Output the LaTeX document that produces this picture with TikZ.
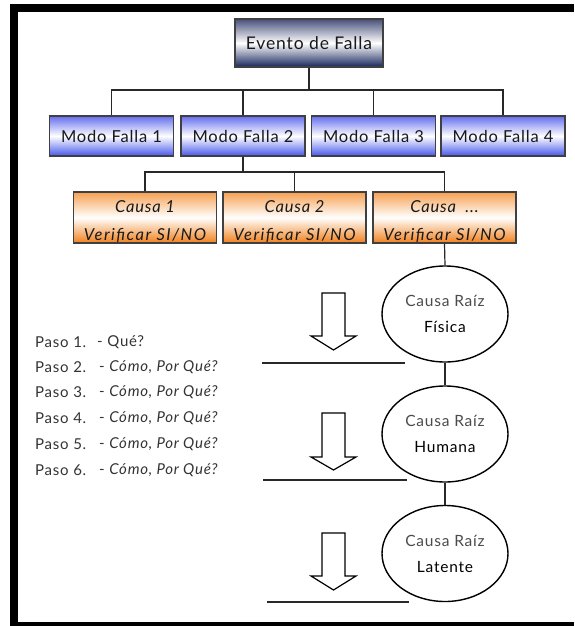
\documentclass[tikz,border=0pt]{standalone}
\usepackage{fontspec}
\setmainfont{Lato}[LetterSpace=5]
\newfontfamily\verfont{Lato}[LetterSpace=9]
\usetikzlibrary{shapes.geometric}
\definecolor{evtop}{RGB}{72,80,122}
\definecolor{evbot}{RGB}{22,36,92}
\definecolor{motop}{RGB}{100,110,238}
\definecolor{mobot}{RGB}{70,88,236}
\definecolor{catop}{RGB}{246,160,82}
\definecolor{cabot}{RGB}{240,128,28}
\definecolor{linegray}{RGB}{40,40,40}
\begin{document}
\begin{tikzpicture}[x=1pt,y=-1pt,
  box/.style={draw=black!75, line width=1.2pt, inner sep=0pt, text=black!90},
  evbox/.style={box, top color=evtop, bottom color=evbot, middle color=white,
    minimum width=148pt, minimum height=48pt, font=\fontsize{17.5}{20}\selectfont},
  modobox/.style={box, top color=motop, bottom color=mobot, middle color=white,
    minimum width=124pt, minimum height=40pt, font=\fontsize{16.5}{20}\selectfont},
  causabox/.style={box, top color=catop, bottom color=cabot, middle color=white,
    minimum width=143pt, minimum height=51pt},
  causatxt/.style={inner sep=0pt, text=black!90, font=\itshape\fontsize{16.5}{18}\selectfont},
  veriftxt/.style={inner sep=0pt, text=black!90, font=\verfont\itshape\fontsize{16.5}{18}\selectfont},
  raiz/.style={ellipse, draw=black, line width=1.4pt, fill=white, inner sep=0pt,
    minimum width=126pt, minimum height=96pt, align=center,
    font=\fontsize{15.5}{26}\selectfont},
  conn/.style={draw=linegray, line width=1.2pt},
  blockarrow/.style={draw=black, line width=1.2pt, fill=white, line join=miter},
  rule/.style={draw=linegray, line width=1.3pt},
  pasotxt/.style={anchor=west, inner sep=0pt, text=black!80, font=\fontsize{15}{16}\selectfont},
  frame/.style={fill=black, draw=none}
]
\useasboundingbox (0,0) rectangle (574,626);
% frame
\fill[frame] (10,4) rectangle (574,12);
\fill[frame] (10,4) rectangle (18,626);
\fill[frame] (10,622) rectangle (574,626);

% top level
\node[evbox] (ev) at (309,43) {Evento de Falla};
\node[modobox] (m1) at (111.5,136) {Modo Falla 1};
\node[modobox] (m2) at (243,136) {Modo Falla 2};
\node[modobox] (m3) at (373.5,136) {Modo Falla 3};
\node[modobox] (m4) at (503,136) {Modo Falla 4};
\coordinate (bus1) at (309,90);
\draw[conn] (ev.south) -- (ev.south |- bus1);
\draw[conn] (m1.north) -- (m1.north |- bus1) -- (m4.north |- bus1) -- (m4.north);
\draw[conn] (m2.north) -- (m2.north |- bus1);
\draw[conn] (m3.north) -- (m3.north |- bus1);

% causes
\node[causabox] (c1) at (145,217.5) {};
\node[causabox] (c2) at (294.5,217.5) {};
\node[causabox] (c3) at (444.5,217.5) {};
\node[causatxt] (c1a) at (145,207) {Causa 1};
\node[causatxt] (c2a) at (294.5,207) {Causa 2};
\node[causatxt] (c3a) at (444.5,207) {Causa \ ...};
\node[veriftxt] (c1b) at (145,235) {Verificar SI/NO};
\node[veriftxt] (c2b) at (294.5,235) {Verificar SI/NO};
\node[veriftxt] (c3b) at (444.5,235) {Verificar SI/NO};
\coordinate (bus2) at (243,172);
\draw[conn] (m2.south) -- (m2.south |- bus2);
\draw[conn] (c1.north) -- (c1.north |- bus2) -- (c3.north |- bus2) -- (c3.north);
\draw[conn] (c2.north) -- (c2.north |- bus2);

% root causes
\node[raiz] (r1) at (445,314) {{\color{black!70}Causa Raíz}\\Física};
\node[raiz] (r2) at (445,434) {{\color{black!70}Causa Raíz}\\Humana};
\node[raiz] (r3) at (445,553.5) {{\color{black!70}Causa Raíz}\\Latente};
\draw[conn] (c3.south) -- (r1.north);
\draw[conn] (r1.south) -- (r2.north);
\draw[conn] (r2.south) -- (r3.north);

% block arrows
\draw[blockarrow] (322,293) -- (322,336) -- (311,336) -- (333.5,350) -- (356,336) -- (345,336) -- (345,293) -- cycle;
\draw[blockarrow] (322,413) -- (322,457) -- (311,457) -- (333.5,470) -- (356,457) -- (345,457) -- (345,413) -- cycle;
\draw[blockarrow] (322,533) -- (322,576) -- (311,576) -- (333.5,590) -- (356,576) -- (345,576) -- (345,533) -- cycle;

% rules
\draw[rule] (262,363) -- (405,363);
\draw[rule] (263,480) -- (407,480);
\draw[rule] (267,602) -- (409,602);

% steps
\node[pasotxt] (p1) at (35,342) {Paso 1.};
\node[pasotxt] (p2) at (35,367) {Paso 2.};
\node[pasotxt] (p3) at (35,392) {Paso 3.};
\node[pasotxt] (p4) at (35,418) {Paso 4.};
\node[pasotxt] (p5) at (35,444) {Paso 5.};
\node[pasotxt] (p6) at (35,470) {Paso 6.};
\node[pasotxt] (q1) at (97,342) {- Qué?};
\node[pasotxt] (q2) at (99,367) {- \textit{Cómo, Por Qué?}};
\node[pasotxt] (q3) at (99,392) {- \textit{Cómo, Por Qué?}};
\node[pasotxt] (q4) at (99,418) {- \textit{Cómo, Por Qué?}};
\node[pasotxt] (q5) at (99,444) {- \textit{Cómo, Por Qué?}};
\node[pasotxt] (q6) at (99,470) {- \textit{Cómo, Por Qué?}};
\end{tikzpicture}
\end{document}
